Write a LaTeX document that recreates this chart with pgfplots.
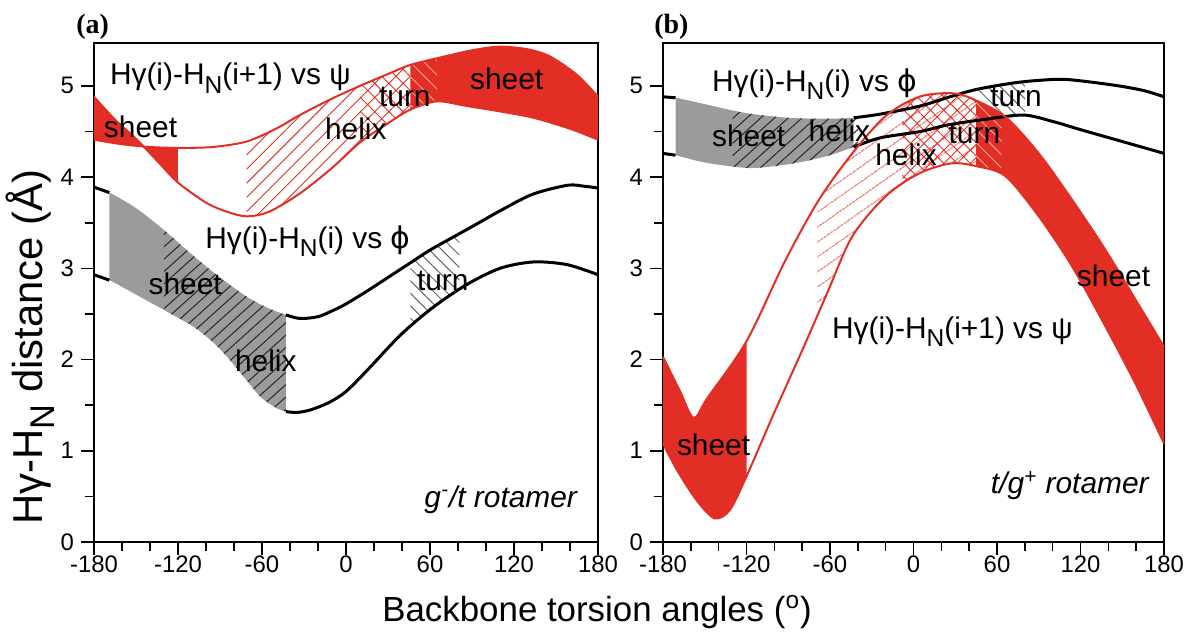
\documentclass[border=0pt]{standalone}
\usepackage{fontspec}
\setmainfont{Liberation Sans}
\newfontfamily\seriffont{Liberation Serif}
\newfontfamily\dejavu{DejaVu Sans}
\usepackage{pgfplots}
\usepackage{pgfplotstable}
\pgfplotsset{compat=1.18}
\usepgfplotslibrary{fillbetween}
\usetikzlibrary{patterns.meta}

\definecolor{sheetred}{RGB}{226,46,36}
\definecolor{sheetgray}{RGB}{155,155,155}
\definecolor{pinkline}{RGB}{246,165,155}

\newcommand\sub[1]{\raisebox{-0.28em}{\scalebox{0.82}{#1}}}
\newcommand\lab{\fontsize{15}{15}\selectfont}

% panel (a): phi band (black/gray) and psi band (red)
\pgfplotstableread{
x y
-180 3.89
-169 3.83
-150 3.66
-130 3.42
-110 3.15
-90 2.90
-70 2.68
-55 2.56
-43 2.49
-33 2.45
-20 2.47
-9 2.54
0 2.61
15 2.75
30 2.90
46 3.06
60 3.20
81 3.38
95 3.50
110 3.63
133 3.81
158 3.91
170 3.90
180 3.88
}\aUp
\pgfplotstableread{
x y
-180 2.93
-169 2.87
-145 2.67
-125 2.50
-109 2.36
-95 2.19
-85 2.03
-73 1.81
-61 1.59
-50 1.47
-43 1.43
-35 1.42
-25 1.45
-12 1.53
0 1.65
15 1.88
39 2.27
62 2.57
86 2.82
110 3.00
134 3.07
158 3.04
180 2.93
}\aLo
\pgfplotstableread{
x y
-180 4.88
-165 4.63
-150 4.42
-135 4.18
-120 3.94
-100 3.72
-85 3.62
-71 3.57
-55 3.62
-33 3.82
-10 4.10
10 4.38
30 4.59
46 4.74
65 4.83
86 4.78
110 4.72
134 4.65
160 4.53
180 4.41
}\aPsiA
\pgfplotstableread{
x y
-180 4.41
-160 4.36
-140 4.33
-120 4.32
-95 4.33
-71 4.39
-50 4.53
-33 4.68
-10 4.86
10 5.00
30 5.13
46 5.23
67 5.31
90 5.39
110 5.43
130 5.40
146 5.32
165 5.12
180 4.88
}\aPsiB

% panel (b)
\pgfplotstableread{
x y
-180 4.88
-171 4.87
-150 4.80
-130 4.73
-115 4.69
-90 4.65
-65 4.64
-43 4.65
-24 4.69
5 4.78
24 4.87
45 4.96
71 5.03
90 5.06
110 5.07
143 5.01
165 4.95
180 4.88
}\bUp
\pgfplotstableread{
x y
-180 4.26
-171 4.24
-150 4.16
-120 4.10
-100 4.12
-79 4.17
-60 4.24
-43 4.33
-24 4.43
5 4.50
24 4.57
50 4.63
79 4.68
100 4.61
120 4.52
150 4.39
180 4.26
}\bLo
\pgfplotstableread{
x y
-180 2.03
-168 1.66
-158 1.36
-148 1.58
-120 2.20
-92 3.09
-68 3.75
-44 4.26
-20 4.67
4 4.88
27 4.92
42 4.86
66 4.66
90 4.26
114 3.75
138 3.20
161 2.62
180 2.14
}\bPsiP
\pgfplotstableread{
x y
-180 1.08
-170 0.79
-156 0.46
-143 0.26
-132 0.35
-120 0.72
-100 1.42
-80 2.10
-62 2.73
-44 3.35
-20 3.79
4 4.04
27 4.15
45 4.12
66 4.01
90 3.57
114 3.02
138 2.36
160 1.72
180 1.08
}\bPsiQ

\pgfplotsset{panel/.style={
  scale only axis, height=249.5bp, anchor=south west,
  xmin=-180, xmax=180, ymin=0, ymax=5.47,
  xtick={-180,-120,-60,0,60,120,180},
  xticklabels={-180,-120,-60,0,60,120,180},
  minor xtick={-160,-140,-100,-80,-40,-20,20,40,80,100,140,160},
  ytick={0,1,2,3,4,5}, yticklabels={0,1,2,3,4,5},
  minor ytick={0.5,1.5,2.5,3.5,4.5},
  tick pos=left, tick align=outside,
  major tick length=6.5bp, minor tick length=4.7bp,
  every tick/.style={black, line width=0.8bp},
  axis line style={line width=0.9bp},
  tick label style={font=\fontsize{12}{12}\selectfont},
  xticklabel style={yshift=3bp},
  clip=false,
}}

\begin{document}
\begin{tikzpicture}

%---------------- (a)
\begin{axis}[panel, at={(47bp,50bp)}, width=252bp]
  \addplot[draw=none, smooth, name path=aU] table {\aUp};
  \addplot[draw=none, smooth, name path=aL] table {\aLo};
  \addplot[draw=none, smooth, name path=aA] table {\aPsiA};
  \addplot[draw=none, smooth, name path=aB] table {\aPsiB};

  % phi: sheet/helix and turn
  \addplot[fill=sheetgray, draw=none] fill between[of=aU and aL, soft clip={domain=-169:-43}];
  \addplot[draw=none, pattern={Lines[angle=42,distance=4.6bp,line width=0.5bp]}, pattern color=black!85]
    fill between[of=aU and aL, soft clip={domain=-130:-43}];
  \addplot[draw=none, pattern={Lines[angle=-45,distance=4.4bp,line width=0.5bp]}, pattern color=black!60]
    fill between[of=aU and aL, soft clip={domain=46:81}];
  \addplot[black, line width=1.5bp, smooth, restrict x to domain=-180:-169] table {\aUp};
  \addplot[black, line width=1.5bp, smooth, restrict x to domain=-43:180] table {\aUp};
  \addplot[black, line width=1.5bp, smooth, restrict x to domain=-180:-169] table {\aLo};
  \addplot[black, line width=1.5bp, smooth, restrict x to domain=-43:180] table {\aLo};

  % psi: helix, turn, sheet
  \addplot[draw=none, pattern={Lines[angle=45,distance=5bp,line width=0.45bp]}, pattern color=sheetred]
    fill between[of=aA and aB, soft clip={domain=-71:46}];
  \addplot[draw=none, pattern={Lines[angle=-45,distance=5bp,line width=0.45bp]}, pattern color=sheetred]
    fill between[of=aA and aB, soft clip={domain=10:46}];
  \addplot[fill=sheetred, draw=none] fill between[of=aA and aB, soft clip={domain=-200:-120}];
  \addplot[fill=sheetred, draw=none] fill between[of=aA and aB, soft clip={domain=46:200}];
  \addplot[draw=none, pattern={Lines[angle=-45,distance=5bp,line width=0.45bp]}, pattern color=pinkline]
    fill between[of=aA and aB, soft clip={domain=46:65}];
  \addplot[sheetred, line width=1bp, smooth] table {\aPsiA};
  \addplot[sheetred, line width=1bp, smooth] table {\aPsiB};

  \node[anchor=base west, font=\lab] at (axis cs:-173.6,5.01) {Hγ(i)-H\sub{N}(i+1) vs ψ};
  \node[anchor=base west, font=\lab] at (axis cs:-177.9,4.43) {sheet};
  \node[anchor=base west, font=\lab] at (axis cs:-20,4.41) {helix};
  \node[anchor=base west, font=\lab] at (axis cs:18.6,4.77) {turn};
  \node[anchor=base west, font=\lab] at (axis cs:83.6,4.96) {sheet};
  \node[anchor=base west, font=\lab] at (axis cs:-105.5,3.22) {Hγ(i)-H\sub{N}(i) vs {\dejavu ϕ}};
  \node[anchor=base west, font=\lab] at (axis cs:-146,2.71) {sheet};
  \node[anchor=base west, font=\lab] at (axis cs:-84.3,1.87) {helix};
  \node[anchor=base west, font=\lab] at (axis cs:45.7,2.76) {turn};
  \node[anchor=base east, font=\lab\itshape] at (axis cs:170,0.38) {g\textsuperscript{-}/t rotamer};
  \node[font=\seriffont\bfseries\fontsize{14}{14}\selectfont] at (axis cs:-181,5.65) {(a)};
\end{axis}

%---------------- (b)
\begin{axis}[panel, at={(331.5bp,50bp)}, width=250.5bp]
  \addplot[draw=none, smooth, name path=bU] table {\bUp};
  \addplot[draw=none, smooth, name path=bL] table {\bLo};
  \addplot[draw=none, smooth, name path=bP] table {\bPsiP};
  \addplot[draw=none, smooth, name path=bQ] table {\bPsiQ};

  % phi
  \addplot[fill=sheetgray, draw=none] fill between[of=bU and bL, soft clip={domain=-171:-43}];
  \addplot[draw=none, pattern={Lines[angle=42,distance=4.6bp,line width=0.5bp]}, pattern color=black!85]
    fill between[of=bU and bL, soft clip={domain=-130:-40}];

  % psi helix and turn
  \addplot[draw=none, pattern={Lines[angle=35,distance=6bp,line width=0.45bp]}, pattern color=sheetred]
    fill between[of=bP and bQ, soft clip={domain=-69:45}];
  \addplot[draw=none, pattern={Lines[angle=-45,distance=4.7bp,line width=0.45bp]}, pattern color=sheetred]
    fill between[of=bP and bQ, soft clip={domain=-8:45}];
  \addplot[draw=none, pattern={Lines[angle=45,distance=4.7bp,line width=0.45bp]}, pattern color=sheetred]
    fill between[of=bP and bQ, soft clip={domain=-8:45}];

  \addplot[draw=none, pattern={Lines[angle=-45,distance=4.4bp,line width=0.5bp]}, pattern color=black!60]
    fill between[of=bU and bL, soft clip={domain=46:80}];
  \addplot[black, line width=1.5bp, smooth, restrict x to domain=-180:-171] table {\bUp};
  \addplot[black, line width=1.5bp, smooth, restrict x to domain=-43:180] table {\bUp};
  \addplot[black, line width=1.5bp, smooth, restrict x to domain=-180:-171] table {\bLo};
  \addplot[black, line width=1.5bp, smooth, restrict x to domain=-43:180] table {\bLo};

  % psi sheet
  \addplot[fill=sheetred, draw=none] fill between[of=bP and bQ, soft clip={domain=-200:-120}];
  \addplot[fill=sheetred, draw=none] fill between[of=bP and bQ, soft clip={domain=45:200}];
  \addplot[draw=none, pattern={Lines[angle=-45,distance=4.7bp,line width=0.45bp]}, pattern color=pinkline]
    fill between[of=bP and bQ, soft clip={domain=45:63}];
  \addplot[sheetred, line width=1bp, smooth] table {\bPsiP};
  \addplot[sheetred, line width=1bp, smooth] table {\bPsiQ};

  \node[anchor=base west, font=\lab] at (axis cs:-149.8,4.94) {Hγ(i)-H\sub{N}(i) vs {\dejavu ϕ}};
  \node[anchor=base west, font=\lab] at (axis cs:-149.8,4.33) {sheet};
  \node[anchor=base west, font=\lab] at (axis cs:-80.4,4.39) {helix};
  \node[anchor=base west, font=\lab] at (axis cs:-32.5,4.13) {helix};
  \node[anchor=base west, font=\lab] at (axis cs:20.2,4.37) {turn};
  \node[anchor=base west, font=\lab] at (axis cs:50.1,4.77) {turn};
  \node[anchor=base west, font=\lab] at (axis cs:112.4,2.80) {sheet};
  \node[anchor=base west, font=\lab] at (axis cs:-63.6,2.23) {Hγ(i)-H\sub{N}(i+1) vs ψ};
  \node[anchor=base west, font=\lab] at (axis cs:-175,0.95) {sheet};
  \node[anchor=base east, font=\lab\itshape] at (axis cs:174,0.53) {t/g\textsuperscript{+} rotamer};
  \node[font=\seriffont\bfseries\fontsize{14}{14}\selectfont] at (axis cs:-174,5.65) {(b)};
\end{axis}

\node[rotate=90, font=\fontsize{21}{21}\selectfont] at (15bp,147.5bp) {Hγ-H\sub{N} distance (Å)};
\node[font=\fontsize{17.5}{17.5}\selectfont] at (298.5bp,15bp) {Backbone torsion angles (\textsuperscript{o})};

\pgfresetboundingbox
\path[use as bounding box] (0,0) rectangle (593.5bp,321bp);
\end{tikzpicture}
\end{document}
